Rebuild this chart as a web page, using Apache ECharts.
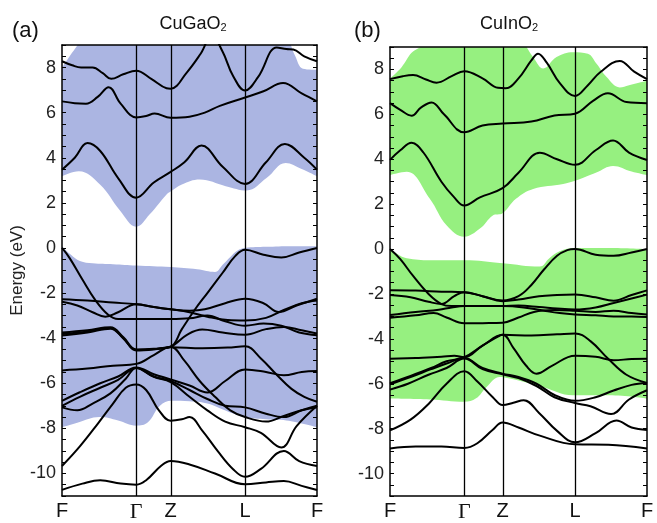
<!DOCTYPE html>
<html><head><meta charset="utf-8">
<script src="https://cdn.jsdelivr.net/npm/echarts@6/dist/echarts.min.js"></script>
<style>html,body{margin:0;padding:0;background:#fff}#c{width:657px;height:523px}</style>
</head><body><div id="c"></div>
<script>
// ---------- k-path ticks ----------
const kLabels = ['F', 'Γ', 'Z', 'L', 'F'];
const aKTicks = [0, 0.291, 0.426, 0.718, 1];
const bKTicks = [0, 0.289, 0.438, 0.72, 1];
const yLabels = [-10, -8, -6, -4, -2, 0, 2, 4, 6, 8];

// ---------- panel (a) CuGaO2 ----------
const aCond = [
  [[0,3.47],[0.05,4.0],[0.10,4.65],[0.15,4.3],[0.22,3.1],[0.291,2.23],[0.36,2.9],[0.426,3.37],[0.48,3.8],[0.547,4.54],[0.63,3.6],[0.718,2.84],[0.80,3.8],[0.874,4.61],[0.95,4.0],[1,3.47]],
  [[0,6.5],[0.05,6.42],[0.094,6.4],[0.14,6.7],[0.183,7.13],[0.23,6.4],[0.291,5.79],[0.33,5.85],[0.363,5.96],[0.426,5.77],[0.5,5.82],[0.56,6.0],[0.619,6.3],[0.718,6.67],[0.79,6.95],[0.867,7.31],[0.94,6.85],[1,6.5]],
  [[0,8.28],[0.04,8.1],[0.075,8.0],[0.12,8.0],[0.16,7.75],[0.193,7.5],[0.24,7.7],[0.291,7.86],[0.35,7.5],[0.41,7.08],[0.426,7.06],[0.49,7.79],[0.543,8.6],[0.588,9.4],[0.63,8.7],[0.67,7.65],[0.718,6.98],[0.77,7.6],[0.842,8.89],[0.88,8.82],[0.907,8.8],[0.95,8.5],[1,8.28]]
];
const aVal = [
  [[0,0],[0.03,-0.45],[0.08,-1.4],[0.13,-2.3],[0.18,-2.95],[0.22,-3.15],[0.291,-3.15],[0.426,-3.15],[0.5,-3.12],[0.57,-3.0],[0.64,-3.25],[0.718,-3.45],[0.79,-3.35],[0.86,-3.45],[0.93,-3.75],[1,-3.87]],
  [[0,-2.27],[0.1,-2.33],[0.2,-2.42],[0.291,-2.5],[0.36,-2.62],[0.426,-2.72],[0.5,-2.78],[0.56,-2.72],[0.64,-2.45],[0.718,-2.25],[0.79,-2.45],[0.85,-2.84],[0.92,-2.55],[1,-2.25]],
  [[0,-2.39],[0.06,-2.55],[0.12,-2.85],[0.17,-3.05],[0.22,-2.85],[0.291,-2.5],[0.36,-2.62],[0.426,-2.72],[0.5,-2.85],[0.57,-3.05],[0.65,-3.2],[0.718,-3.22],[0.8,-3.1],[0.87,-2.75],[0.94,-2.45],[1,-2.33]],
  [[0,-3.75],[0.1,-3.65],[0.19,-3.52],[0.24,-3.95],[0.291,-4.5],[0.36,-4.47],[0.426,-4.38],[0.47,-3.6],[0.52,-2.75],[0.57,-2.0],[0.63,-1.1],[0.68,-0.35],[0.718,-0.08],[0.79,-0.3],[0.86,-0.42],[0.93,-0.2],[1,0]],
  [[0,-3.88],[0.1,-3.75],[0.19,-3.58],[0.24,-4.0],[0.291,-4.55],[0.36,-4.5],[0.426,-4.4],[0.55,-4.45],[0.65,-4.42],[0.718,-4.36],[0.78,-4.9],[0.84,-5.6],[0.9,-6.25],[0.95,-6.6],[1,-6.82]],
  [[0,-3.82],[0.1,-3.7],[0.19,-3.55],[0.24,-4.0],[0.291,-4.52],[0.36,-4.48],[0.426,-4.38],[0.49,-3.85],[0.55,-3.62],[0.63,-3.75],[0.718,-3.85],[0.8,-3.6],[0.87,-3.5],[0.94,-3.65],[1,-3.79]],
  [[0,-5.43],[0.1,-5.35],[0.2,-5.22],[0.291,-5.14],[0.36,-4.75],[0.426,-4.38],[0.48,-5.0],[0.54,-5.9],[0.6,-6.6],[0.66,-7.2],[0.718,-7.5],[0.8,-7.7],[0.87,-7.45],[0.94,-7.2],[1,-7.07]],
  [[0,-6.78],[0.07,-6.4],[0.15,-6.0],[0.22,-5.7],[0.291,-5.3],[0.36,-5.6],[0.426,-5.83],[0.5,-6.1],[0.57,-6.41],[0.64,-5.9],[0.718,-5.39],[0.8,-5.5],[0.87,-5.65],[0.94,-5.5],[1,-5.46]],
  [[0,-7.0],[0.07,-6.6],[0.15,-6.2],[0.22,-5.85],[0.291,-5.32],[0.36,-5.7],[0.426,-5.9],[0.5,-6.3],[0.57,-6.7],[0.64,-7.0],[0.718,-7.07],[0.8,-7.35],[0.87,-7.5],[0.94,-7.2],[1,-7.0]],
  [[0,-7.07],[0.06,-7.2],[0.12,-6.9],[0.19,-6.45],[0.25,-5.8],[0.291,-5.32],[0.36,-5.72],[0.426,-5.95],[0.5,-6.6],[0.57,-7.2],[0.64,-7.7],[0.718,-7.95],[0.78,-8.2],[0.86,-8.85],[0.92,-7.9],[1,-7.0]],
  [[0,-9.67],[0.07,-8.8],[0.14,-7.8],[0.2,-6.9],[0.25,-6.2],[0.291,-6.05],[0.33,-6.3],[0.38,-7.2],[0.426,-7.66],[0.47,-7.6],[0.5,-7.5],[0.55,-8.1],[0.61,-9.0],[0.67,-9.8],[0.718,-10.15],[0.78,-9.8],[0.87,-9.0],[0.93,-9.45],[1,-9.67]],
  [[0,-10.73],[0.08,-10.45],[0.15,-10.3],[0.23,-10.45],[0.291,-10.5],[0.33,-10.3],[0.39,-9.65],[0.426,-9.45],[0.5,-9.6],[0.6,-10.0],[0.718,-10.48],[0.8,-10.4],[0.87,-10.34],[0.94,-10.55],[1,-10.73]]
];
const aCondTop = [[0,8.0],[0.03,8.5],[0.068,9.1],[0.1,9.6],[0.5,9.6],[0.87,9.6],[0.89,9.2],[0.915,8.5],[0.945,7.95],[1,7.9]];
const aCondBot = [[0,3.18],[0.066,3.4],[0.15,2.8],[0.228,1.65],[0.291,0.94],[0.344,1.49],[0.41,2.37],[0.426,2.5],[0.47,2.81],[0.54,3.03],[0.642,2.74],[0.724,2.55],[0.802,3.1],[0.877,3.77],[0.94,3.5],[1,3.18]];
const aValTop = [[0,0.08],[0.035,-0.3],[0.07,-0.58],[0.12,-0.68],[0.2,-0.72],[0.291,-0.78],[0.426,-0.85],[0.53,-0.95],[0.6,-1.07],[0.63,-0.75],[0.66,-0.4],[0.69,-0.1],[0.718,0.0],[0.8,0.05],[0.9,0.08],[1,0.08]];
const aValBot = [[0,-7.95],[0.06,-7.75],[0.147,-7.5],[0.22,-7.65],[0.291,-7.88],[0.337,-7.73],[0.384,-7.0],[0.43,-6.78],[0.5,-6.8],[0.57,-6.9],[0.65,-7.25],[0.718,-7.5],[0.8,-7.6],[0.88,-7.65],[1,-7.95]];

// ---------- panel (b) CuInO2 ----------
const bCond = [
  [[0,3.97],[0.04,4.4],[0.084,4.73],[0.13,4.3],[0.2,3.0],[0.25,2.3],[0.289,1.94],[0.35,2.3],[0.438,2.71],[0.5,3.4],[0.583,4.29],[0.65,4.0],[0.72,3.75],[0.8,4.4],[0.868,4.84],[0.93,4.3],[1,3.97]],
  [[0,6.5],[0.04,6.2],[0.084,5.94],[0.12,6.3],[0.162,6.53],[0.21,6.0],[0.289,5.2],[0.36,5.5],[0.438,5.59],[0.55,5.68],[0.64,5.95],[0.72,6.03],[0.79,6.6],[0.848,6.94],[0.92,6.55],[1,6.5]],
  [[0,7.57],[0.05,7.7],[0.09,7.75],[0.14,7.55],[0.181,7.41],[0.24,7.7],[0.289,7.92],[0.36,7.6],[0.42,7.18],[0.45,7.16],[0.5,7.6],[0.55,8.4],[0.576,8.7],[0.61,8.3],[0.66,7.4],[0.72,6.82],[0.77,7.3],[0.82,7.9],[0.894,8.38],[0.95,7.9],[1,7.57]]
];
const bVal = [
  [[0,0],[0.04,-0.45],[0.09,-1.2],[0.15,-2.0],[0.2,-2.45],[0.24,-2.54],[0.289,-2.54],[0.438,-2.54],[0.5,-2.52],[0.58,-2.58],[0.65,-2.65],[0.72,-2.69],[0.8,-2.6],[0.87,-2.4],[0.94,-2.2],[1,-2.03]],
  [[0,-1.84],[0.1,-1.85],[0.2,-1.9],[0.289,-1.92],[0.36,-2.1],[0.438,-2.29],[0.5,-2.1],[0.55,-1.6],[0.6,-0.9],[0.65,-0.3],[0.69,-0.05],[0.72,0],[0.8,-0.25],[0.87,-0.3],[0.94,-0.15],[1,0]],
  [[0,-2.05],[0.08,-2.15],[0.15,-2.35],[0.2,-2.45],[0.25,-2.1],[0.289,-1.92],[0.36,-2.1],[0.438,-2.32],[0.5,-2.25],[0.58,-2.1],[0.65,-2.05],[0.72,-2.03],[0.8,-2.15],[0.87,-2.3],[0.94,-2.05],[1,-1.84]],
  [[0,-2.94],[0.1,-2.8],[0.19,-2.7],[0.24,-2.6],[0.289,-2.54],[0.36,-2.54],[0.438,-2.54],[0.52,-2.6],[0.6,-2.75],[0.66,-2.85],[0.72,-2.91],[0.8,-2.95],[0.87,-3.0],[0.94,-3.0],[1,-3.03]],
  [[0,-3.06],[0.1,-2.95],[0.17,-2.85],[0.22,-3.05],[0.289,-3.31],[0.36,-3.3],[0.438,-3.28],[0.5,-3.05],[0.56,-2.8],[0.64,-2.72],[0.72,-2.75],[0.8,-2.8],[0.87,-2.75],[0.94,-2.85],[1,-2.91]],
  [[0,-4.89],[0.1,-4.85],[0.2,-4.8],[0.25,-4.75],[0.289,-4.82],[0.36,-4.3],[0.42,-3.9],[0.438,-3.82],[0.55,-3.85],[0.65,-3.8],[0.72,-3.76],[0.78,-4.1],[0.85,-4.9],[0.92,-5.6],[1,-5.97]],
  [[0,-5.97],[0.08,-5.65],[0.16,-5.3],[0.22,-5.0],[0.289,-4.82],[0.36,-4.3],[0.438,-3.82],[0.48,-4.4],[0.53,-5.2],[0.57,-5.55],[0.63,-5.2],[0.72,-4.75],[0.8,-4.8],[0.87,-4.95],[0.94,-4.9],[1,-4.89]],
  [[0,-6.02],[0.08,-5.7],[0.16,-5.35],[0.22,-5.1],[0.289,-4.85],[0.36,-5.3],[0.438,-5.55],[0.5,-5.7],[0.57,-6.0],[0.64,-6.5],[0.72,-6.76],[0.8,-6.6],[0.87,-6.3],[0.94,-6.05],[1,-5.97]],
  [[0,-6.26],[0.07,-6.0],[0.15,-5.6],[0.22,-5.3],[0.289,-4.88],[0.36,-5.35],[0.438,-5.58],[0.5,-5.75],[0.57,-6.1],[0.64,-6.6],[0.72,-6.86],[0.78,-7.0],[0.86,-7.35],[0.93,-6.7],[1,-6.29]],
  [[0,-8.08],[0.08,-7.6],[0.15,-6.9],[0.22,-6.0],[0.289,-5.44],[0.34,-5.9],[0.4,-6.6],[0.438,-6.95],[0.48,-6.85],[0.52,-6.73],[0.58,-7.3],[0.65,-8.1],[0.72,-8.61],[0.8,-8.2],[0.881,-7.64],[0.94,-7.95],[1,-8.06]],
  [[0,-8.88],[0.1,-8.8],[0.2,-8.8],[0.289,-8.86],[0.34,-8.65],[0.4,-8.05],[0.438,-7.73],[0.5,-7.95],[0.58,-8.3],[0.72,-8.7],[0.85,-8.72],[1,-8.88]]
];
const bCondTop = [[0,7.6],[0.045,8.1],[0.085,8.75],[0.13,9.1],[0.16,9.6],[0.5,9.6],[0.531,9.0],[0.56,8.5],[0.596,8.04],[0.648,8.55],[0.712,8.77],[0.77,8.7],[0.803,8.26],[0.842,7.67],[0.894,7.2],[0.93,7.3],[1,7.5]];
const bCondBot = [[0,3.29],[0.065,3.44],[0.155,2.24],[0.22,1.06],[0.289,0.55],[0.35,0.91],[0.4,1.5],[0.438,1.6],[0.49,2.24],[0.557,2.68],[0.674,2.9],[0.72,3.04],[0.803,3.41],[0.868,3.7],[0.94,3.45],[1,3.29]];
const bValTop = [[0,0.0],[0.04,-0.3],[0.065,-0.41],[0.155,-0.5],[0.289,-0.5],[0.438,-0.63],[0.583,-0.78],[0.62,-0.41],[0.66,-0.1],[0.72,0.05],[0.85,0.05],[1,0.0]];
const bValBot = [[0,-6.66],[0.155,-6.7],[0.289,-6.8],[0.335,-6.65],[0.376,-6.14],[0.427,-5.7],[0.466,-5.77],[0.594,-6.14],[0.711,-6.51],[0.854,-6.51],[1,-6.66]];

// ---------- styling ----------
const aColor = '#abb5e2';
const bColor = '#96f080';
const FONT = 'Liberation Sans';

function areaS(data, gi, color) {
  return {type:'line', xAxisIndex: gi, yAxisIndex: gi*2, data: data, smooth: 0.4,
    symbol:'none', lineStyle:{opacity:0, width:0}, areaStyle:{color: color, opacity:1, origin:'start'},
    z: 1, silent: true, animation: false, clip: true};
}
function bandS(data, gi) {
  return {type:'line', xAxisIndex: gi, yAxisIndex: gi*2, data: data, smooth: 0.4,
    symbol:'none', lineStyle:{color:'#000', width:2}, z: 3, silent: true, animation: false, clip: true};
}
function markS(gi, ticks) {
  return {type:'line', xAxisIndex: gi, yAxisIndex: gi*2, data: [], z: 2, animation:false, silent:true,
    markLine:{symbol:['none','none'], silent:true, animation:false, label:{show:false},
      lineStyle:{color:'#000', width:1.3, type:'solid'},
      data: ticks.slice(1, 4).map(k => ({xAxis: k}))}};
}
function xFmt(ticks) {
  return function (v) {
    let i = 0, best = 1e9;
    ticks.forEach((t, j) => { if (Math.abs(t - v) < best) { best = Math.abs(t - v); i = j; } });
    return kLabels[i] === 'Γ' ? '{g|Γ}' : kLabels[i];
  };
}
function xAxes(gi, ticks) {
  return [
    {type:'value', gridIndex: gi, min:0, max:1, position:'bottom', z:10,
      axisLine:{show:true, onZero:false, lineStyle:{color:'#000', width:1.5}},
      axisTick:{show:false}, splitLine:{show:false},
      axisLabel:{customValues: ticks, formatter: xFmt(ticks), showMinLabel:true, showMaxLabel:true,
        fontSize:20, color:'#111', fontFamily: FONT, margin:5,
        rich:{g:{fontFamily:'Liberation Serif', fontSize:22, color:'#111'}}}},
    {type:'value', gridIndex: gi, min:0, max:1, position:'top', z:10,
      axisLine:{show:true, onZero:false, lineStyle:{color:'#000', width:1.5}},
      axisTick:{show:false}, axisLabel:{show:false}, splitLine:{show:false}}
  ];
}
function yAxes(gi, withName) {
  const common = {type:'value', gridIndex: gi, min:-11, max:9, interval:0.5, z:10, splitLine:{show:false},
    axisLine:{show:true, onZero:false, lineStyle:{color:'#000', width:1.5}},
    axisTick:{show:true, inside:true, length:4, lineStyle:{color:'#000', width:1}}};
  const left = Object.assign({}, common, {position:'left',
    axisLabel:{customValues: yLabels, formatter: v => String(v), fontSize:18, color:'#222', fontFamily: FONT, margin:6}});
  if (withName) {
    Object.assign(left, {name:'Energy (eV)', nameLocation:'middle', nameRotate:90, nameGap:35,
      nameTextStyle:{fontSize:17, color:'#222', fontFamily: FONT}});
  }
  const right = Object.assign({}, common, {position:'right', axisLabel:{show:false}});
  return [left, right];
}

const series = [];
series.push(areaS(aCondTop, 0, aColor), areaS(aCondBot, 0, '#fff'), areaS(aValTop, 0, aColor), areaS(aValBot, 0, '#fff'));
series.push(areaS(bCondTop, 1, bColor), areaS(bCondBot, 1, '#fff'), areaS(bValTop, 1, bColor), areaS(bValBot, 1, '#fff'));
series.push(markS(0, aKTicks), markS(1, bKTicks));
aCond.concat(aVal).forEach(d => series.push(bandS(d, 0)));
bCond.concat(bVal).forEach(d => series.push(bandS(d, 1)));

const xa = xAxes(0, aKTicks), xb = xAxes(1, bKTicks);
const ya = yAxes(0, true), yb = yAxes(1, false);

const chart = echarts.init(document.getElementById('c'), null, {renderer:'canvas'});
chart.setOption({
  animation: false,
  backgroundColor: '#fff',
  grid: [
    {left: 62, top: 45, width: 255, height: 455},
    {left: 390, top: 47, width: 257, height: 453.5}
  ],
  xAxis: [xa[0], xb[0], xa[1], xb[1]],
  yAxis: [ya[0], ya[1], yb[0], yb[1]],
  graphic: [
    {type:'text', left: 12, top: 20, style:{text:'(a)', fontSize:22, fill:'#111', fontFamily: FONT}},
    {type:'text', left: 354, top: 20, style:{text:'(b)', fontSize:22, fill:'#111', fontFamily: FONT}},
    {type:'text', x: 193, y: 33, style:{text:'{m|CuGaO}{s|2}', align:'center', verticalAlign:'bottom',
      rich:{m:{fontSize:18, lineHeight:18, verticalAlign:'bottom', fill:'#111', fontFamily: FONT},
            s:{fontSize:11, lineHeight:11, verticalAlign:'bottom', fill:'#111', fontFamily: FONT}}}},
    {type:'text', x: 509, y: 33, style:{text:'{m|CuInO}{s|2}', align:'center', verticalAlign:'bottom',
      rich:{m:{fontSize:18, lineHeight:18, verticalAlign:'bottom', fill:'#111', fontFamily: FONT},
            s:{fontSize:11, lineHeight:11, verticalAlign:'bottom', fill:'#111', fontFamily: FONT}}}}
  ],
  series: series
});
</script></body></html>
